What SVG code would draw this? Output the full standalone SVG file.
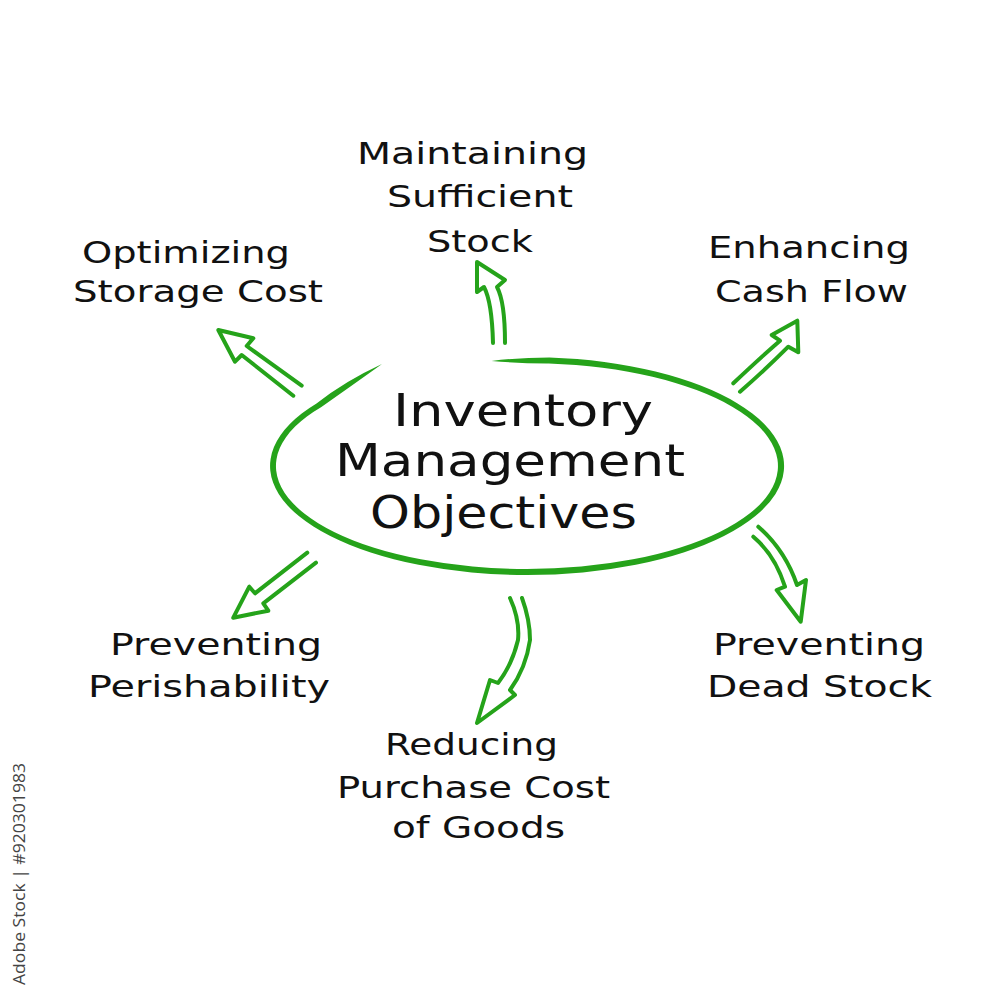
<svg xmlns="http://www.w3.org/2000/svg" width="1000" height="1000" viewBox="0 0 1000 1000">
<style>
.lbl{font-family:"DejaVu Sans","Liberation Sans",sans-serif;font-size:31px;fill:#111;}
.ctr{font-family:"DejaVu Sans","Liberation Sans",sans-serif;font-size:45px;fill:#111;}
.arr{fill:none;stroke:#25a31a;stroke-width:4;stroke-linejoin:round;stroke-linecap:round;}
.wm{font-family:"Open Sans","DejaVu Sans",sans-serif;font-size:16px;fill:#444;}
</style>
<rect width="1000" height="1000" fill="#fff"/>
<g id="center">
<path fill="#25a31a" d="M491.6,361 Q520,357.5 549.4,357.4 A257 109 0 1 1 316.5,403.5 Q345,381 382,364 Q350,387 321.4,406.9 A251 103 0 1 0 548.9,363.4 Q520,363.5 491.6,361 Z"/>
<text class="ctr" x="393" y="426" textLength="260" lengthAdjust="spacingAndGlyphs">Inventory</text>
<text class="ctr" x="335" y="476" textLength="350" lengthAdjust="spacingAndGlyphs">Management</text>
<text class="ctr" x="370" y="528" textLength="267" lengthAdjust="spacingAndGlyphs">Objectives</text>
</g>
<g id="connectors">
<path class="arr" d="M493,343 Q492,302 484,287 L477,292 L477,262 L505,280 L497,287 Q505,302 505,343"/>
<path class="arr" d="M301.7,385.7 L246.7,346 L253.3,338.3 L218.3,330 L235,361.7 L241.7,355 L293.3,395.7"/>
<path class="arr" d="M733.3,383.3 Q760,358 780,340.7 L771.7,335 L797.3,320.7 L798.3,352.3 L788.3,346.7 Q765,370 740,391.7"/>
<path class="arr" d="M758.3,526.7 Q785,550 797,585 L806,580 L800.7,621.7 L776.7,590 L785,586.7 Q775,555 753.3,536.7"/>
<path class="arr" d="M510,598 Q520,620 518,640 Q512,665 498,683 L490,680 L477,723 L515,695 L510,690 Q526,668 530,640 Q530,620 522,598"/>
<path class="arr" d="M307.3,552.7 L255,593.3 L249.3,586.7 L233.3,617.7 L268.3,610.7 L263.3,603.3 L316,562.7"/>
</g>
<g id="node-storage">
<text class="lbl" x="82" y="263" textLength="208" lengthAdjust="spacingAndGlyphs">Optimizing</text>
<text class="lbl" x="73" y="302" textLength="250" lengthAdjust="spacingAndGlyphs">Storage Cost</text>
</g>
<g id="node-stock">
<text class="lbl" x="357" y="164" textLength="231" lengthAdjust="spacingAndGlyphs">Maintaining</text>
<text class="lbl" x="387" y="207" textLength="186" lengthAdjust="spacingAndGlyphs">Sufficient</text>
<text class="lbl" x="427" y="252" textLength="106" lengthAdjust="spacingAndGlyphs">Stock</text>
</g>
<g id="node-cash">
<text class="lbl" x="708" y="258" textLength="202" lengthAdjust="spacingAndGlyphs">Enhancing</text>
<text class="lbl" x="715" y="302" textLength="193" lengthAdjust="spacingAndGlyphs">Cash Flow</text>
</g>
<g id="node-perish">
<text class="lbl" x="110" y="655" textLength="212" lengthAdjust="spacingAndGlyphs">Preventing</text>
<text class="lbl" x="88" y="697" textLength="242" lengthAdjust="spacingAndGlyphs">Perishability</text>
</g>
<g id="node-dead">
<text class="lbl" x="713" y="655" textLength="212" lengthAdjust="spacingAndGlyphs">Preventing</text>
<text class="lbl" x="707" y="697" textLength="225" lengthAdjust="spacingAndGlyphs">Dead Stock</text>
</g>
<g id="node-purchase">
<text class="lbl" x="385" y="755" textLength="173" lengthAdjust="spacingAndGlyphs">Reducing</text>
<text class="lbl" x="337" y="798" textLength="273" lengthAdjust="spacingAndGlyphs">Purchase Cost</text>
<text class="lbl" x="392" y="838" textLength="173" lengthAdjust="spacingAndGlyphs">of Goods</text>
</g>
<text class="wm" transform="translate(25,985) rotate(-90)" textLength="222" lengthAdjust="spacingAndGlyphs">Adobe Stock | #920301983</text>
</svg>
